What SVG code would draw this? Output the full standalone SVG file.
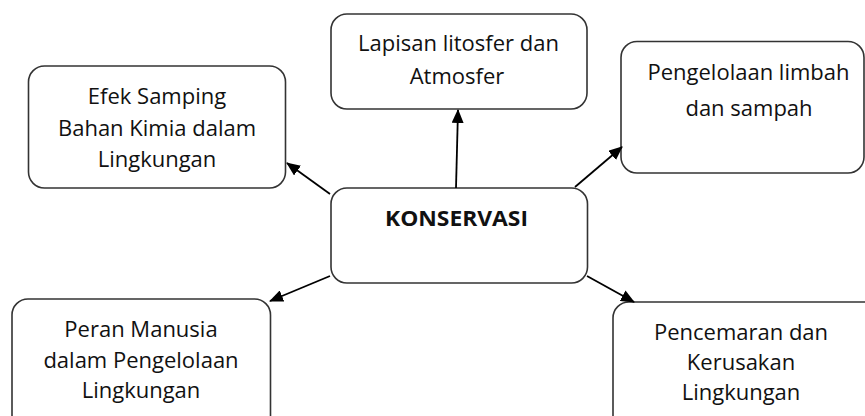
<svg xmlns="http://www.w3.org/2000/svg" width="865" height="416" viewBox="0 0 865 416">
<defs>
<style>
.box{fill:#fff;stroke:#333;stroke-width:1.6}
.t{font-family:"Open Sans","Liberation Sans",sans-serif;font-size:22px;fill:#111;text-anchor:middle}
.b{font-family:"Open Sans","Liberation Sans",sans-serif;font-size:20.5px;font-weight:bold;fill:#111;text-anchor:middle}
.c{stroke:#000;stroke-width:1.8;fill:none;marker-end:url(#ah)}
</style>
<marker id="ah" markerUnits="userSpaceOnUse" markerWidth="14" markerHeight="12" viewBox="0 0 14 12" refX="13" refY="6" orient="auto">
<path d="M0,0 L14,6 L0,12 Z" fill="#000"/>
</marker>
</defs>
<rect width="865" height="416" fill="#fff"/>
<g id="n-efek">
<rect class="box" x="28.5" y="66" width="257" height="122" rx="16"/>
<text class="t" x="157" y="104">Efek Samping</text>
<text class="t" x="157" y="135.5">Bahan Kimia dalam</text>
<text class="t" x="157" y="166.5">Lingkungan</text>
</g>
<g id="n-lapisan">
<rect class="box" x="331" y="14" width="256" height="95" rx="16"/>
<text class="t" x="458.5" y="51">Lapisan litosfer dan</text>
<text class="t" x="457" y="84">Atmosfer</text>
</g>
<g id="n-pengelolaan">
<rect class="box" x="621" y="41.5" width="243" height="131.5" rx="16"/>
<text class="t" x="748.5" y="80">Pengelolaan limbah</text>
<text class="t" x="749" y="116">dan sampah</text>
</g>
<g id="n-konservasi">
<rect class="box" x="331" y="188" width="256.5" height="95" rx="16"/>
<text class="b" x="456.5" y="226" textLength="143" lengthAdjust="spacingAndGlyphs">KONSERVASI</text>
</g>
<g id="n-peran">
<rect class="box" x="12" y="299" width="258.5" height="140" rx="16"/>
<text class="t" x="141" y="337">Peran Manusia</text>
<text class="t" x="141" y="368">dalam Pengelolaan</text>
<text class="t" x="141" y="397.5">Lingkungan</text>
</g>
<g id="n-pencemaran">
<rect class="box" x="613" y="302" width="270" height="140" rx="16"/>
<text class="t" x="741" y="339.5">Pencemaran dan</text>
<text class="t" x="741" y="370">Kerusakan</text>
<text class="t" x="741" y="399.5">Lingkungan</text>
</g>
<g id="connectors">
<line class="c" x1="330" y1="194" x2="287" y2="163"/>
<line class="c" x1="456" y1="188" x2="458" y2="110"/>
<line class="c" x1="575" y1="187" x2="622" y2="147"/>
<line class="c" x1="330" y1="276" x2="270" y2="301"/>
<line class="c" x1="587" y1="276" x2="634" y2="302"/>
</g>
</svg>
